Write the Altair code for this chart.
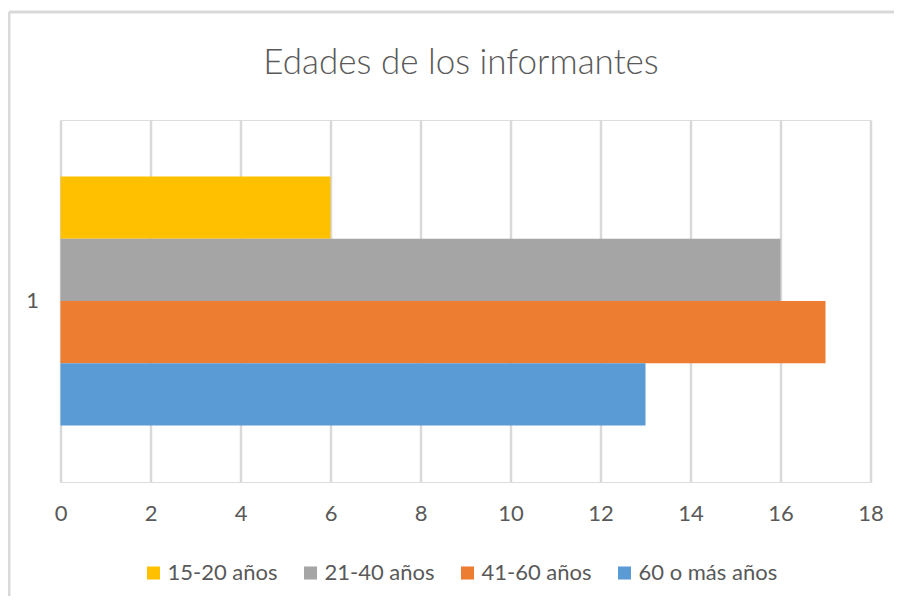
import altair as alt
import pandas as pd

categoria = ["1", "1", "1", "1"]
series = ["15-20 años", "21-40 años", "41-60 años", "60 o más años"]
valores = [6, 16, 17, 13]
colores = ["#FFC000", "#A5A5A5", "#ED7D31", "#5B9BD5"]
ticks_x = [0, 2, 4, 6, 8, 10, 12, 14, 16, 18]
titulo = ["Edades de los informantes"]

df = pd.DataFrame({"cat": categoria, "serie": series, "valor": valores})
FONT = "Lato"
TXT = "#595959"

bars = alt.Chart(df).mark_bar().encode(
    x=alt.X("valor:Q",
            scale=alt.Scale(domain=[0, 18], nice=False),
            axis=alt.Axis(values=ticks_x, title=None, grid=True, gridColor="#D9D9D9",
                          gridWidth=2.5, domain=False, ticks=False, labelFontSize=22,
                          labelFont=FONT, labelColor=TXT, labelPadding=21,
                          labelFlush=False)),
    y=alt.Y("cat:N",
            scale=alt.Scale(paddingOuter=0.227, paddingInner=0),
            axis=alt.Axis(title=None, domain=False, ticks=False, grid=False, labelFontSize=22,
                          labelFont=FONT, labelColor=TXT, labelPadding=22)),
    yOffset=alt.YOffset("serie:N", sort=series, scale=alt.Scale(paddingInner=0, paddingOuter=0)),
    color=alt.Color("serie:N", sort=series,
                    scale=alt.Scale(domain=series, range=colores),
                    legend=alt.Legend(title=None, orient="none", direction="horizontal",
                                      legendX=82, legendY=442, symbolType="square",
                                      symbolSize=170, symbolStrokeWidth=0, labelFontSize=22,
                                      labelFont=FONT, labelColor=TXT, columnPadding=21,
                                      labelOffset=3)),
)

one = pd.DataFrame({"b": [0]})
top_line = alt.Chart(one).mark_rule(color="#D9D9D9", strokeWidth=3).encode(
    x=alt.value(-51.5), x2=alt.value(900), y=alt.value(-108))
left_line = alt.Chart(one).mark_rule(color="#D9D9D9", strokeWidth=3).encode(
    x=alt.value(-51.5), y=alt.value(-108), y2=alt.value(600))

title = alt.Chart(pd.DataFrame({"t": titulo})).mark_text(
    font=FONT, fontSize=35, fontWeight=300, color=TXT, align="center", baseline="alphabetic"
).encode(text="t:N", x=alt.value(400.5), y=alt.value(-46))

chart = alt.layer(top_line, left_line, bars, title).properties(
    width=810,
    height=362,
    autosize=alt.AutoSizeParams(type="none"),
    padding={"left": 52.5, "top": 112, "right": 23.5, "bottom": 114},
).configure_view(stroke=None).configure(background="white")

chart.save("out.html", embed_options={"renderer": "svg", "actions": False})
